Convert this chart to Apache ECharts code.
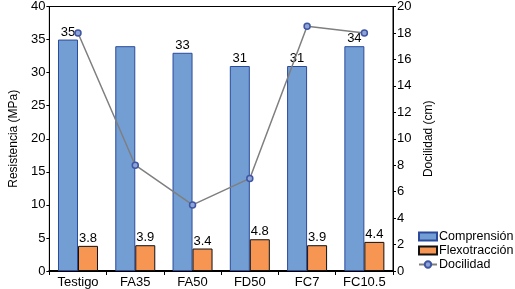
<!DOCTYPE html>
<html>
<head>
<meta charset="utf-8">
<script src="https://cdn.jsdelivr.net/npm/echarts@6/dist/echarts.min.js"></script>
<style>
	html, body { margin: 0; padding: 0; background: #fff; }
	#chart { width: 515px; height: 289px; }
</style>
</head>
<body>
<div id="chart"></div>
<script>
	// datos
	const categorias = ["Testigo", "FA35", "FA50", "FD50", "FC7", "FC10.5"];
	const compresion = [35, 34, 33, 31, 31, 34];
	const compEtiquetas = ["35", "", "33", "31", "31", "34"]; // FA35 sin etiqueta en el original
	const flexotraccion = [3.8, 3.9, 3.4, 4.8, 3.9, 4.4];
	const docilidad = [18, 8, 5, 7, 18.5, 18];

	const fuente = "Liberation Sans, Arial, sans-serif";
	const chart = echarts.init(document.getElementById("chart"));

	const ejeComun = {
		axisLine: { show: true, lineStyle: { color: "#000", width: 1 } },
		axisTick: { show: true, length: 3, lineStyle: { color: "#000" } },
		splitLine: { show: false },
		axisLabel: { color: "#000", fontSize: 13, fontFamily: fuente, margin: 4 },
		nameLocation: "middle",
		nameTextStyle: { color: "#000", fontSize: 12, fontFamily: fuente },
	};

	const option = {
		animation: false,
		grid: {
			left: 43, right: 122, top: 6, bottom: 18,
			show: true, borderColor: "#000", borderWidth: 1,
		},
		legend: {
			orient: "vertical",
			left: 418,
			top: 230,
			padding: 0,
			itemGap: 1,
			itemWidth: 18,
			itemHeight: 8,
			textStyle: { color: "#000", fontSize: 12.5, fontFamily: fuente, padding: [0, 0, 0, -3] },
			data: [
				{ name: "Comprensión", icon: "rect" },
				{ name: "Flexotracción", icon: "rect" },
				{ name: "Docilidad" },
			],
		},
		xAxis: {
			type: "category",
			data: categorias,
			axisLine: { lineStyle: { color: "#000", width: 2 } },
			axisTick: { show: true, length: 4, lineStyle: { color: "#000" } },
			axisLabel: { color: "#000", fontSize: 13, fontFamily: fuente, margin: 5, interval: 0 },
		},
		yAxis: [
			Object.assign({}, ejeComun, {
				type: "value",
				min: 0, max: 40, interval: 5,
				position: "left",
				name: "Resistencia (MPa)",
				nameGap: 29,
			}),
			Object.assign({}, ejeComun, {
				type: "value",
				min: 0, max: 20, interval: 2,
				position: "right",
				name: "Docilidad (cm)",
				nameGap: 25,
			}),
		],
		series: [
			{
				name: "Comprensión",
				type: "bar",
				yAxisIndex: 0,
				data: compresion,
				barWidth: 20,
				barGap: "0%",
				itemStyle: { color: "#729ed3", borderColor: "#2c4a9c", borderWidth: 1 },
				label: {
					show: true,
					position: "top",
					distance: 1,
					color: "#000",
					fontSize: 13,
					fontFamily: fuente,
					formatter: p => compEtiquetas[p.dataIndex],
				},
			},
			{
				name: "Flexotracción",
				type: "bar",
				yAxisIndex: 0,
				data: flexotraccion,
				barWidth: 20,
				itemStyle: { color: "#f79553", borderColor: "#111", borderWidth: 1 },
				label: {
					show: true,
					position: "top",
					distance: 1,
					color: "#000",
					fontSize: 13,
					fontFamily: fuente,
				},
			},
			{
				name: "Docilidad",
				type: "line",
				yAxisIndex: 1,
				data: docilidad,
				symbol: "circle",
				symbolSize: 6,
				lineStyle: { color: "#7f7f7f", width: 1.5 },
				itemStyle: { color: "#8ea3d6", borderColor: "#3e56a3", borderWidth: 1.5 },
				z: 5,
			},
		],
	};

	chart.setOption(option);
</script>
</body>
</html>
